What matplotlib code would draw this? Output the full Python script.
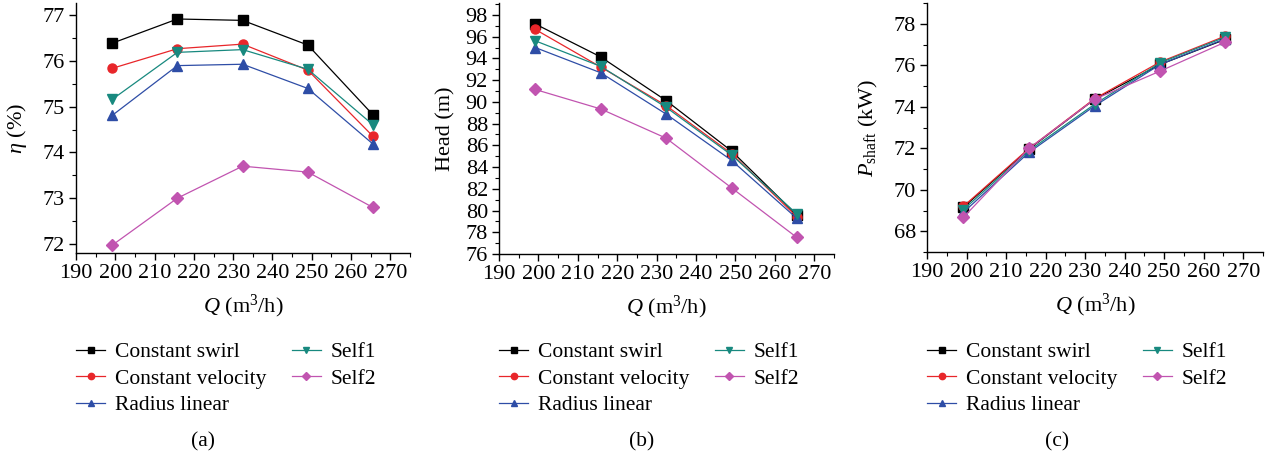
import numpy as np
import matplotlib
matplotlib.use("Agg")
import matplotlib.pyplot as plt
from matplotlib.ticker import MultipleLocator

plt.rcParams['font.family'] = ['Liberation Serif', 'DejaVu Serif']
plt.rcParams['mathtext.fontset'] = 'custom'
plt.rcParams['mathtext.rm'] = 'Liberation Serif'
plt.rcParams['mathtext.it'] = 'Liberation Serif:italic'
plt.rcParams['font.size'] = 15.5

# flow rate points (m3/h)
Q = [199.2, 215.8, 232.4, 249.0, 265.5]

series = ['Constant swirl', 'Constant velocity', 'Radius linear', 'Self1', 'Self2']
colors = ['#000000', '#e8262a', '#2e4da6', '#18897f', '#c154b0']
markers = ['s', 'o', '^', 'v', 'D']

# efficiency (%)
eta_swirl = [76.39, 76.92, 76.89, 76.35, 74.83]
eta_vel = [75.84, 76.27, 76.37, 75.80, 74.36]
eta_radius = [74.81, 75.90, 75.93, 75.40, 74.19]
eta_self1 = [75.16, 76.19, 76.25, 75.82, 74.61]
eta_self2 = [71.97, 73.00, 73.70, 73.57, 72.80]

# head (m)
head_swirl = [97.17, 94.14, 90.12, 85.48, 79.61]
head_vel = [96.67, 93.21, 89.66, 85.24, 79.45]
head_radius = [95.00, 92.68, 88.88, 84.62, 79.30]
head_self1 = [95.62, 93.27, 89.50, 85.11, 79.71]
head_self2 = [91.14, 89.35, 86.66, 82.09, 77.54]

# shaft power (kW)
p_swirl = [69.15, 71.96, 74.36, 76.04, 77.25]
p_vel = [69.20, 71.99, 74.39, 76.16, 77.41]
p_radius = [68.91, 71.80, 74.04, 76.04, 77.28]
p_self1 = [69.04, 71.88, 74.12, 76.12, 77.36]
p_self2 = [68.67, 71.99, 74.36, 75.72, 77.12]

panels = [
    dict(data=[eta_swirl, eta_vel, eta_radius, eta_self1, eta_self2],
         ylabel=r'$\mathit{\eta}$ (%)', ylim=(71.8, 77.27), major=1, minor=0.5,
         rect=[76/1271, 1-253/457, 334/1271, 250/457], cap='(a)', capx=203/1271,
         ylx=-0.14),
    dict(data=[head_swirl, head_vel, head_radius, head_self1, head_self2],
         ylabel='Head (m)', ylim=(76, 99.1), major=2, minor=1,
         rect=[499/1271, 1-254/457, 335/1271, 251/457], cap='(b)', capx=642/1271,
         ylx=-0.13),
    dict(data=[p_swirl, p_vel, p_radius, p_self1, p_self2],
         ylabel=r'$P_{\mathrm{shaft}}$ (kW)', ylim=(67.0, 79.0), major=2, minor=1,
         rect=[927/1271, 1-252/457, 336/1271, 249/457], cap='(c)', capx=1057/1271,
         ylx=-0.14),
]

fig = plt.figure(figsize=(12.71, 4.57), dpi=100)

for p in panels:
    ax = fig.add_axes(p['rect'])
    for vals, name, c, m in zip(p['data'], series, colors, markers):
        ms = 6 if m == 'D' else 6.5
        ax.plot(Q, vals, color=c, marker=m, markersize=ms, linewidth=0.9, label=name)
    ax.set_xlim(190, 275)
    ax.set_ylim(*p['ylim'])
    ax.xaxis.set_major_locator(MultipleLocator(10))
    ax.xaxis.set_minor_locator(MultipleLocator(5))
    ax.yaxis.set_major_locator(MultipleLocator(p['major']))
    ax.yaxis.set_minor_locator(MultipleLocator(p['minor']))
    ax.spines['top'].set_visible(False)
    ax.spines['right'].set_visible(False)
    for s in ('left', 'bottom'):
        ax.spines[s].set_linewidth(1.0)
    ax.tick_params(which='major', direction='out', length=5, width=1.0, labelsize=16, pad=3)
    ax.tick_params(which='minor', direction='out', length=3, width=0.8)
    ax.set_xlabel(r'$\mathit{Q}$ (m$^3$/h)', fontsize=16, labelpad=7)
    ax.set_ylabel(p['ylabel'], fontsize=16)
    ax.yaxis.set_label_coords(p['ylx'], 0.5)
    l, b, w, h = p['rect']
    ax.legend(loc='upper left', bbox_to_anchor=(l, 1 - 342/457),
              bbox_transform=fig.transFigure, ncol=2, frameon=False,
              handlelength=1.35, handletextpad=0.45, columnspacing=1.2,
              labelspacing=0.3, borderpad=0, borderaxespad=0, fontsize=15.5,
              markerscale=0.7)
    fig.text(p['capx'], 1 - 442/457, p['cap'], ha='center', va='center', fontsize=15.5)

fig.savefig('out.png', dpi=100)
